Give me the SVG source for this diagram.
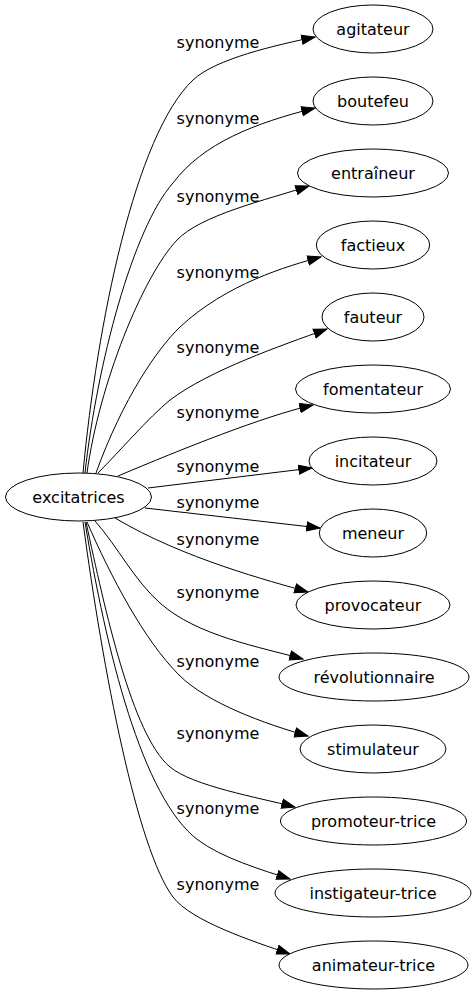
<svg xmlns="http://www.w3.org/2000/svg" width="475" height="995" viewBox="0 0 475 995">
<defs>
<style>
.n ellipse{fill:#fff;stroke:#000;stroke-width:1}
text{font-family:"DejaVu Sans",sans-serif;font-size:16px;fill:#000}
.n text{text-anchor:middle}
.e path{fill:none;stroke:#000;stroke-width:1;marker-end:url(#ah)}
.lbl text{text-anchor:middle}
</style>
<marker id="ah" markerUnits="userSpaceOnUse" markerWidth="15" markerHeight="12" viewBox="0 0 15 12" refX="13.8" refY="6" orient="auto">
<path d="M0.5,1.4 L13.8,6 L0.5,10.6 z" fill="#000" stroke="#000" stroke-width="1"/>
</marker>
</defs>
<rect width="475" height="995" fill="#fff"/>
<g id="edges" class="e">
<path d="M83,473 C97,324 135,135 193,80 C215,59 276,45 315,37"/>
<path d="M85,473 C97,364 133,228 173,183 C203,143 255,123 315,108"/>
<path d="M87,473 C99,384 143,276 177,240 C201,215 266,200 309,186"/>
<path d="M96,473 C123,398 158,348 180,327 C226,284 287,266 321,257"/>
<path d="M98,473 C120,451 148,418 170,400 C210,370 280,346 327,329"/>
<path d="M118,476 C182,449 264,416 313,405"/>
<path d="M148,488 C203,481 257,475 312,468"/>
<path d="M145,508 C203,515 262,521 320,528"/>
<path d="M115,518 C184,559 270,581 308,592"/>
<path d="M95,521 C118,547 134,580 160,603 C197,636 260,647 303,659"/>
<path d="M87,522 C111,577 144,640 179,675 C207,703 265,724 308,736"/>
<path d="M86,522 C105,610 132,735 170,767 C193,786 256,797 295,807"/>
<path d="M85,522 C106,650 142,798 198,840 C222,858 262,870 290,879"/>
<path d="M83,522 C103,671 137,849 173,897 C191,921 252,941 290,954"/>
</g>
<g id="labels" class="lbl">
<text x="218" y="48">synonyme</text>
<text x="218" y="124">synonyme</text>
<text x="218" y="202">synonyme</text>
<text x="218" y="278">synonyme</text>
<text x="218" y="353">synonyme</text>
<text x="218" y="418">synonyme</text>
<text x="218" y="472">synonyme</text>
<text x="218" y="508">synonyme</text>
<text x="218" y="545">synonyme</text>
<text x="218" y="598">synonyme</text>
<text x="218" y="667">synonyme</text>
<text x="218" y="739">synonyme</text>
<text x="218" y="814">synonyme</text>
<text x="218" y="890">synonyme</text>
</g>
<g id="excitatrices" class="n"><ellipse cx="78.5" cy="497" rx="73" ry="24"/><text x="78.5" y="502.5">excitatrices</text></g>
<g id="agitateur" class="n"><ellipse cx="373" cy="29" rx="60" ry="24"/><text x="373" y="34.5">agitateur</text></g>
<g id="boutefeu" class="n"><ellipse cx="373" cy="101" rx="60" ry="24"/><text x="373" y="106.5">boutefeu</text></g>
<g id="entraineur" class="n"><ellipse cx="373" cy="173" rx="75.5" ry="24"/><text x="373" y="178.5">entraîneur</text></g>
<g id="factieux" class="n"><ellipse cx="373" cy="245" rx="56.7" ry="24"/><text x="373" y="250.5">factieux</text></g>
<g id="fauteur" class="n"><ellipse cx="373" cy="317" rx="51" ry="24"/><text x="373" y="322.5">fauteur</text></g>
<g id="fomentateur" class="n"><ellipse cx="373" cy="389" rx="77.5" ry="24"/><text x="373" y="394.5">fomentateur</text></g>
<g id="incitateur" class="n"><ellipse cx="373" cy="461" rx="64" ry="24"/><text x="373" y="466.5">incitateur</text></g>
<g id="meneur" class="n"><ellipse cx="373" cy="533" rx="53.7" ry="24"/><text x="373" y="538.5">meneur</text></g>
<g id="provocateur" class="n"><ellipse cx="373" cy="605" rx="77" ry="24"/><text x="373" y="610.5">provocateur</text></g>
<g id="revolutionnaire" class="n"><ellipse cx="374" cy="677" rx="95" ry="24"/><text x="374" y="682.5">révolutionnaire</text></g>
<g id="stimulateur" class="n"><ellipse cx="373" cy="749" rx="73" ry="24"/><text x="373" y="754.5">stimulateur</text></g>
<g id="promoteur-trice" class="n"><ellipse cx="373.5" cy="821" rx="93" ry="24"/><text x="373.5" y="826.5">promoteur-trice</text></g>
<g id="instigateur-trice" class="n"><ellipse cx="373" cy="893" rx="98" ry="24"/><text x="373" y="898.5">instigateur-trice</text></g>
<g id="animateur-trice" class="n"><ellipse cx="373.5" cy="965" rx="94.5" ry="24"/><text x="373.5" y="970.5">animateur-trice</text></g>
</svg>
